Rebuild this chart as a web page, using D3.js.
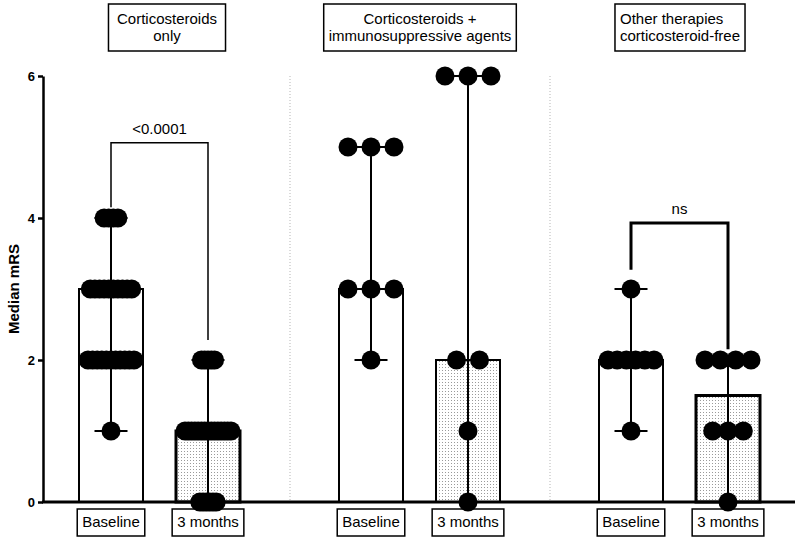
<!DOCTYPE html>
<html><head><meta charset="utf-8">
<script src="https://cdn.jsdelivr.net/npm/d3@7"></script>
<style>body{margin:0;background:#fff} svg{display:block;font-family:"Liberation Sans",Arial,sans-serif}</style>
</head><body><svg id="c" width="800" height="542"></svg>
<script>
// ---- data ----
const groupTitles = [["Corticosteroids","only"],["Corticosteroids +","immunosuppressive agents"],["Other therapies","corticosteroid-free"]];
const timepoints = ["Baseline","3 months"];
const yTicks = [0,2,4,6];
const mrsLevels = [0,1,2,3,4,5,6];
// number of patients at each mRS level 0..6
const csOnlyBaseline = [0,1,11,10,4,0,0];
const csOnly3Months  = [6,15,5,0,0,0,0];
const csIsBaseline   = [0,0,1,3,0,3,0];
const csIs3Months    = [1,1,2,0,0,0,3];
const otherBaseline  = [0,1,6,1,0,0,0];
const other3Months   = [1,3,4,0,0,0,0];
const groupCounts = [[csOnlyBaseline,csOnly3Months],[csIsBaseline,csIs3Months],[otherBaseline,other3Months]];
const compLabels = ["<0.0001", null, "ns"];
// bracket levels in mRS units: top, left leg end, right leg end
const compTop   = [5.06, null, 3.93];
const compLeft  = [4.15, null, 3.27];
const compRight = [2.28, null, 2.15];

// ---- layout ----
const svg = d3.select("#c");
const y = d3.scaleLinear().domain([0,6]).range([502,76]);
const outer = d3.scaleBand().domain(d3.range(3)).range([30,810]);
const inner = d3.scalePoint().domain(timepoints).range([81,178]);
const barW = 64, capHalf = 16.5, r = 9.5, spread = 46;
const titleAlign = ["middle","middle","start"];
const titleShift = [7,0,0];
const titlePad = [8.5,5,5];

const defs = svg.append("defs");
const pat = defs.append("pattern").attr("id","stip").attr("width",3).attr("height",3).attr("patternUnits","userSpaceOnUse");
pat.append("rect").attr("width",3).attr("height",3).attr("fill","#fff");
pat.append("rect").attr("x",1).attr("y",1).attr("width",1).attr("height",1).attr("fill","#9a9a9a");

// dividers
[1,2].forEach(g=>{
  svg.append("line").attr("x1",outer(g)).attr("x2",outer(g)).attr("y1",y(6)).attr("y2",y(0))
    .attr("stroke","#b5b5b5").attr("stroke-width",1).attr("stroke-dasharray","1,2");
});

// axes
const yAxis = svg.append("g").attr("transform","translate(43,0)")
  .call(d3.axisLeft(y).tickValues(yTicks).tickSize(5).tickSizeOuter(0).tickPadding(3).tickFormat(d3.format("d")));
yAxis.select(".domain").attr("stroke","#000").attr("stroke-width",2.5);
yAxis.selectAll(".tick line").attr("stroke","#000").attr("stroke-width",2.5);
yAxis.selectAll(".tick text").attr("fill","#000").style("font-size","13px").style("font-weight","bold").style("font-family","Liberation Sans, Arial, sans-serif");
svg.append("text").attr("transform",`translate(19,${(y(0)+y(6))/2}) rotate(-90)`).attr("text-anchor","middle")
  .style("font-size","15px").style("font-weight","bold").text("Median mRS");

const expand = counts => counts.flatMap((n,i)=>d3.range(n).map(()=>mrsLevels[i]));

groupCounts.forEach((pair,g)=>{
  const gx = outer(g);
  pair.forEach((counts,t)=>{
    const cx = gx + inner(timepoints[t]);
    const vals = expand(counts);
    const med = d3.median(vals), mn = d3.min(vals), mx = d3.max(vals);
    // bar
    svg.append("rect").attr("x",cx-barW/2).attr("y",y(med)).attr("width",barW).attr("height",y(0)-y(med))
      .attr("fill", t===0 ? "#fff" : "url(#stip)").attr("stroke","#000").attr("stroke-width", t===0 ? 2 : (g===1?2:3));
    // error bar
    svg.append("line").attr("x1",cx).attr("x2",cx).attr("y1",y(mn)).attr("y2",y(mx)).attr("stroke","#000").attr("stroke-width",2);
    [mn,mx].forEach(v=>svg.append("line").attr("x1",cx-capHalf).attr("x2",cx+capHalf).attr("y1",y(v)).attr("y2",y(v)).attr("stroke","#000").attr("stroke-width",2));
    // label box
    const lg = svg.append("g");
    const tx = lg.append("text").attr("x",cx).attr("y",527).attr("text-anchor","middle").style("font-size","15px").text(timepoints[t]);
    const w = tx.node().getComputedTextLength();
    lg.insert("rect","text").attr("x",cx-w/2-5).attr("y",509).attr("width",w+10).attr("height",27).attr("fill","#fff").attr("stroke","#000").attr("stroke-width",1.5);
  });
});

// x axis line
svg.append("line").attr("x1",42).attr("x2",795).attr("y1",y(0)).attr("y2",y(0)).attr("stroke","#000").attr("stroke-width",3);

// dots
groupCounts.forEach((pair,g)=>{
  const gx = outer(g);
  pair.forEach((counts,t)=>{
    const cx = gx + inner(timepoints[t]);
    const maxN = d3.max(counts);
    const s = maxN>1 ? Math.min(23, spread/(maxN-1)) : 0;
    counts.forEach((n,li)=>{
      d3.range(n).forEach(i=>{
        svg.append("circle").attr("cx",cx+(i-(n-1)/2)*s).attr("cy",y(mrsLevels[li])).attr("r",r).attr("fill","#000");
      });
    });
  });
});

// comparisons
compLabels.forEach((lab,g)=>{
  if(!lab) return;
  const x1 = outer(g)+inner(timepoints[0]), x2 = outer(g)+inner(timepoints[1]);
  svg.append("path").attr("d",`M${x1},${y(compLeft[g])}V${y(compTop[g])}H${x2}V${y(compRight[g])}`)
    .attr("fill","none").attr("stroke","#000").attr("stroke-width", g===2?3:1.5);
  svg.append("text").attr("x",(x1+x2)/2).attr("y",y(compTop[g])-9).attr("text-anchor","middle").style("font-size","15px").text(lab);
});

// group titles
groupTitles.forEach((lines,g)=>{
  const cx = outer(g)+outer.bandwidth()/2+titleShift[g];
  const tg = svg.append("g");
  const texts = lines.map((l,i)=>tg.append("text").attr("y",24+i*17).style("font-size","15px").text(l));
  const w = d3.max(texts,t=>t.node().getComputedTextLength());
  texts.forEach(t=>{
    if(titleAlign[g]==="start") t.attr("x",cx-w/2).attr("text-anchor","start");
    else t.attr("x",cx).attr("text-anchor","middle");
  });
  tg.insert("rect","text").attr("x",cx-w/2-titlePad[g]).attr("y",4).attr("width",w+2*titlePad[g]).attr("height",47).attr("fill","#fff").attr("stroke","#000").attr("stroke-width",1.5);
});
</script></body></html>
